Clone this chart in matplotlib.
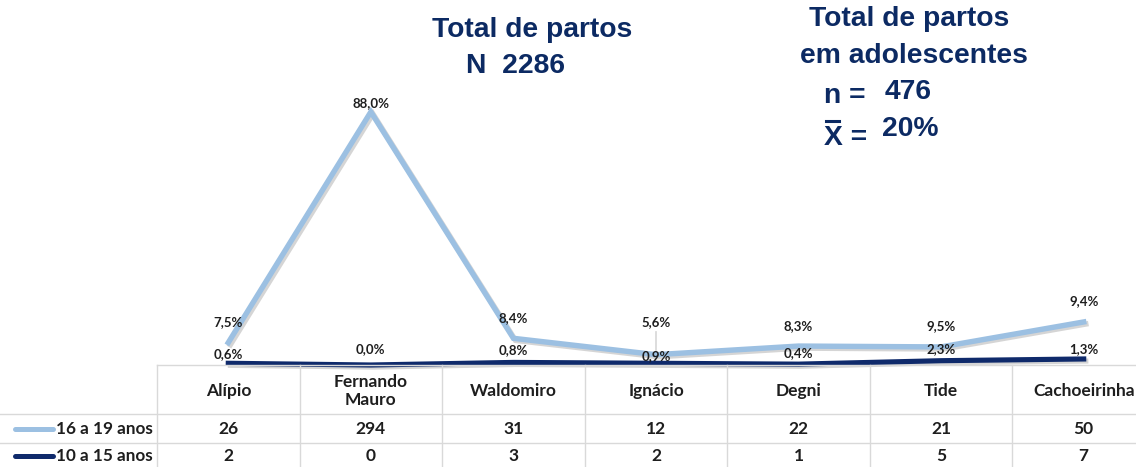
import matplotlib
matplotlib.use("Agg")
import matplotlib.pyplot as plt
import matplotlib.patheffects as pe
from matplotlib.lines import Line2D

# ---- data ----
categories = ["Alípio", "Fernando\nMauro", "Waldomiro", "Ignácio", "Degni", "Tide", "Cachoeirinha"]
series_names = ["16 a 19 anos", "10 a 15 anos"]
counts_16_19 = [26, 294, 31, 12, 22, 21, 50]
counts_10_15 = [2, 0, 3, 2, 1, 5, 7]
pct_16_19 = ["7,5%", "88,0%", "8,4%", "5,6%", "8,3%", "9,5%", "9,4%"]
pct_10_15 = ["0,6%", "0,0%", "0,8%", "0,9%", "0,4%", "2,3%", "1,3%"]
title_left = ["Total de partos", "N  2286"]
title_right = ["Total de partos", "em adolescentes"]
n_label, n_value = "n =", "476"
mean_label, mean_value = "X =", "20%"

# ---- layout / style ----
W, H = 1136, 467
L, R = 157, 1155
TOP_TABLE = 365
PX_PER_UNIT = 0.861
light = "#9cc0e2"
dark = "#0f2a6b"
navy_text = "#0c2a63"
grid_c = "#d9d9d9"
txt_c = "#1e1e1e"
tfont = "Lato"

# label offsets in pixels
off_light = [21, 9, 20, 33, 20, 21, 21]
off_dark = [9, 16, 12, 7, 11, 12, 10]

fig = plt.figure(figsize=(W / 100, H / 100), dpi=100)
fig.patch.set_facecolor("white")

ax = fig.add_axes([L / W, (H - TOP_TABLE) / H, (R - L) / W, TOP_TABLE / H])
ax.set_xlim(-0.5, 6.5)
ax.set_ylim(0, TOP_TABLE / PX_PER_UNIT)
ax.axis("off")

x = list(range(len(categories)))
shadow = [pe.SimpleLineShadow(offset=(1.5, -1.5), shadow_color="#888888", alpha=0.35), pe.Normal()]
ax.plot(x, counts_16_19, color=light, lw=3.9, solid_joinstyle="miter", clip_on=False,
        path_effects=shadow, zorder=3)
ax.plot(x, counts_10_15, color=dark, lw=3.7, clip_on=False, path_effects=shadow, zorder=4)

lab = dict(textcoords="offset points", ha="center", va="center", fontsize=9.5,
           fontweight="bold", family=tfont, color=txt_c, zorder=5)
for i in x:
    ax.annotate(pct_16_19[i], (i, counts_16_19[i]), xytext=(0, off_light[i] * 0.72), **lab)
    ax.annotate(pct_10_15[i], (i, counts_10_15[i]), xytext=(0, off_dark[i] * 0.72), **lab)
# leader line for Ignácio label
ax.annotate("", (3, counts_16_19[3]), xytext=(0, 26 * 0.72), textcoords="offset points",
            arrowprops=dict(arrowstyle="-", color="#bbbbbb", lw=0.7), zorder=2)

# ---- table ----
tab = fig.add_axes([L / W, 0, (R - L) / W, (H - TOP_TABLE) / H])
tab.set_xlim(-0.5, 6.5)
tab.set_ylim(H - TOP_TABLE, 0)
tab.axis("off")
colw = (R - L) / 7
def px2x(px):
    return (px - L) / colw - 0.5

row_lines = [49, 78]
tab.plot([-0.5, 6.5], [0, 0], color=grid_c, lw=1, clip_on=False)
for yy in row_lines:
    tab.plot([px2x(0), 6.5], [yy, yy], color=grid_c, lw=1, clip_on=False)
for k in range(8):
    tab.plot([k - 0.5, k - 0.5], [0, H - TOP_TABLE], color=grid_c, lw=1, clip_on=False)

cell = dict(ha="center", va="center", fontsize=12.5, fontweight="bold", family=tfont, color=txt_c)
for i, c in enumerate(categories):
    tab.text(i, 26, c, linespacing=1.2, **cell)
    tab.text(i, 64, str(counts_16_19[i]), **cell)
    tab.text(i, 91, str(counts_10_15[i]), **cell)

for yy, col, name in [(64, light, series_names[0]), (91, dark, series_names[1])]:
    tab.plot([px2x(15), px2x(53)], [yy, yy], color=col, lw=3.6, clip_on=False,
             solid_capstyle="round")
    tab.text(px2x(56), yy, name, ha="left", va="center", fontsize=12.3, fontweight="bold",
             family=tfont, color=txt_c, clip_on=False)

# ---- titles ----
tf = dict(family="Liberation Sans", fontweight="bold", color=navy_text, fontsize=20.3)
def fx(px):
    return px / W
def fy(py):
    return 1 - py / H
fig.text(fx(532), fy(30), title_left[0], ha="center", va="center", **tf)
fig.text(fx(516), fy(66), title_left[1], ha="center", va="center", **tf)
fig.text(fx(909), fy(19), title_right[0], ha="center", va="center", **tf)
fig.text(fx(914), fy(56), title_right[1], ha="center", va="center", **tf)
fig.text(fx(824), fy(96), n_label, ha="left", va="center", **tf)
fig.text(fx(885), fy(92), n_value, ha="left", va="center", **tf)
fig.text(fx(824), fy(138), mean_label, ha="left", va="center", **tf)
fig.text(fx(882), fy(129), mean_value, ha="left", va="center", **tf)
fig.add_artist(Line2D([fx(826), fx(839)], [fy(121), fy(121)], color=navy_text, lw=2.2))

fig.savefig("out.png", dpi=100, facecolor="white")
